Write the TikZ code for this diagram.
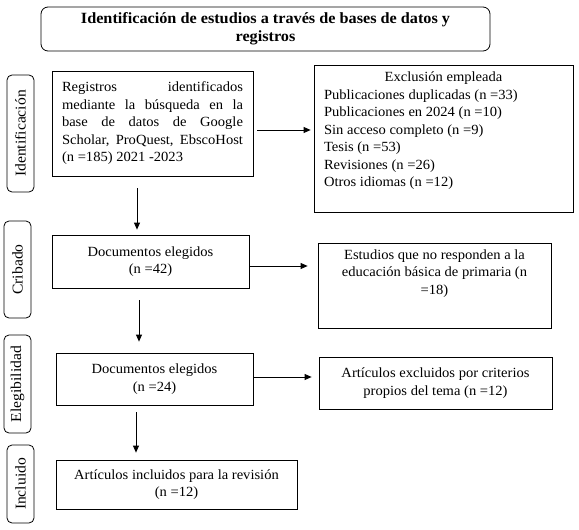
\documentclass[tikz,border=0pt]{standalone}
\usepackage{fontspec}
\setmainfont{Liberation Serif}[FakeStretch=1.04]
\usetikzlibrary{arrows.meta,positioning,calc}
\begin{document}
\begin{tikzpicture}[x=1pt,y=-1pt,
  every node/.style={font=\fontsize{14}{17.5}\selectfont},
  box/.style={draw, line width=0.8pt, inner sep=0pt, align=center},
  phase/.style={draw, line width=0.8pt, rounded corners=5pt, minimum height=27pt, inner sep=0pt, rotate=90, font=\fontsize{15}{17.5}\selectfont},
  arr/.style={line width=0.8pt, -{Triangle[length=7pt,width=6pt]}}]
\useasboundingbox (0,0) rectangle (579,530);
% title
\node[box, rounded corners=7pt, minimum width=449pt, minimum height=44pt, font=\fontsize{15.6}{18}\selectfont\bfseries] (title) at (265.5,29) {Identificación de estudios a través de bases de datos y\\registros};
% phase labels
\node[phase, minimum width=117pt] (p1) at (20.5,133.5) {Identificación};
\node[phase, minimum width=97pt] (p2) at (17.5,269.5) {Cribado};
\node[phase, minimum width=98pt] (p3) at (17.5,384) {Elegibilidad};
\node[phase, minimum width=78pt] (p4) at (20.5,484) {Incluido};
% boxes
\node[box, minimum width=201pt, minimum height=105pt] (b1) at (152.5,123.5) {\parbox{181pt}{Registros identificados\linebreak mediante la búsqueda en la\linebreak base de datos de Google\linebreak Scholar, ProQuest, EbscoHost\linebreak (n =185) 2021 -2023}};
\node[box, minimum width=259pt, minimum height=147pt] (ex) at (443.5,138.5) {\parbox[c][133pt][t]{239pt}{\centering Exclusión empleada\par\raggedright
Publicaciones duplicadas (n =33)\\
Publicaciones en 2024 (n =10)\\
Sin acceso completo (n =9)\\
Tesis (n =53)\\
Revisiones (n =26)\\
Otros idiomas (n =12)}};
\node[box, minimum width=197pt, minimum height=53pt] (b2) at (150.5,261.5) {Documentos elegidos\\(n =42)};
\node[box, minimum width=233pt, minimum height=85pt] (b3) at (434.5,285.5) {\parbox[c][72pt][t]{225pt}{\centering Estudios que no responden a la\\educación básica de primaria (n\\=18)}};
\node[box, minimum width=197pt, minimum height=52pt] (b4) at (154.5,379) {Documentos elegidos\\(n =24)};
\node[box, minimum width=233pt, minimum height=52pt] (b5) at (435.5,383) {Artículos excluidos por criterios\\propios del tema (n =12)};
\node[box, minimum width=241pt, minimum height=49pt] (b6) at (176.5,484.5) {Artículos incluidos para la revisión\\(n =12)};
% arrow guide coordinates
\coordinate (v1) at (137,0);
\coordinate (v2) at (139,0);
\coordinate (v3) at (136,0);
\coordinate (h1) at (0,130);
\coordinate (h2) at (0,266);
\coordinate (h3) at (0,377);
% arrows
\draw[arr, shorten <=12pt, shorten >=5pt] (b1.south -| v1) -- (b2.north -| v1);
\draw[arr, shorten <=12pt, shorten >=11pt] (b2.south -| v2) -- (b4.north -| v2);
\draw[arr, shorten <=7pt, shorten >=7pt] (b4.south -| v3) -- (b6.north -| v3);
\draw[arr, shorten <=4pt, shorten >=3pt] (b1.east |- h1) -- (ex.west |- h1);
\draw[arr, shorten >=10pt] (b2.east |- h2) -- (b3.west |- h2);
\draw[arr, shorten >=7pt] (b4.east |- h3) -- (b5.west |- h3);
\end{tikzpicture}
\end{document}
